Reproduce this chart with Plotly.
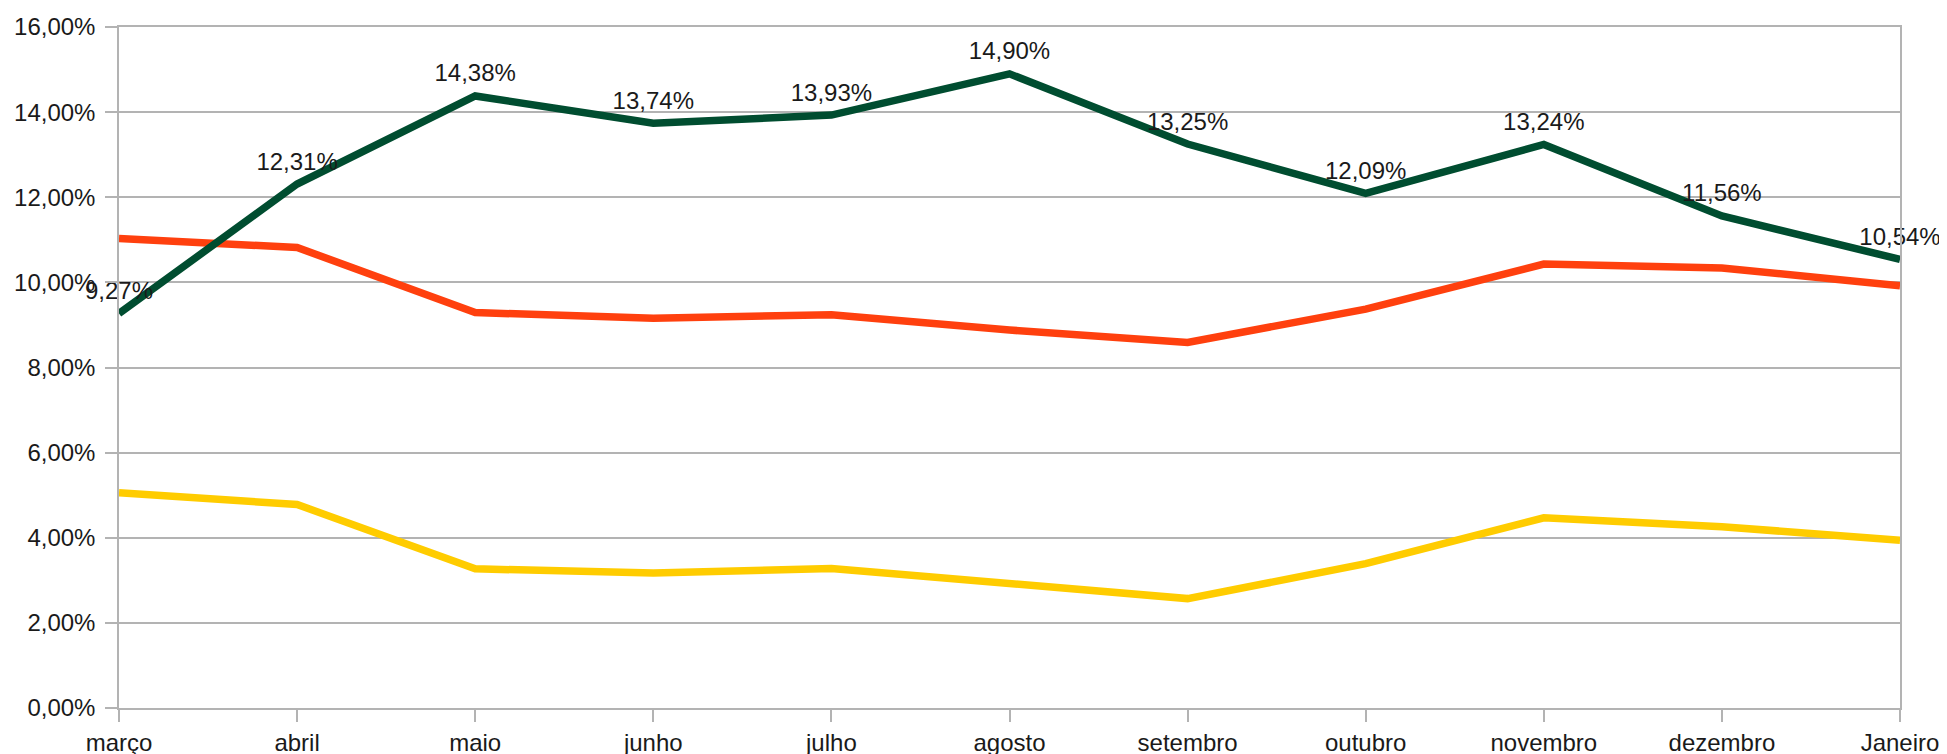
import plotly.graph_objects as go

months = ["março", "abril", "maio", "junho", "julho", "agosto", "setembro",
          "outubro", "novembro", "dezembro", "Janeiro"]
green_vals = [9.27, 12.31, 14.38, 13.74, 13.93, 14.90, 13.25, 12.09, 13.24, 11.56, 10.54]
red_vals = [11.03, 10.82, 9.29, 9.16, 9.24, 8.88, 8.59, 9.37, 10.43, 10.34, 9.92]
yellow_vals = [5.06, 4.78, 3.27, 3.17, 3.28, 2.92, 2.57, 3.39, 4.47, 4.26, 3.94]

y_ticks = [0, 2, 4, 6, 8, 10, 12, 14, 16]

FONT = "Liberation Sans, Arial, sans-serif"
GRID = "#b3b3b3"

def pct(v):
    return [x / 100 for x in v]

fig = go.Figure()
fig.add_trace(go.Scatter(x=months, y=pct(yellow_vals), mode="lines",
                         line=dict(color="#ffcc00", width=7.5), showlegend=False))
fig.add_trace(go.Scatter(x=months, y=pct(red_vals), mode="lines",
                         line=dict(color="#ff400e", width=7.5), showlegend=False))
fig.add_trace(go.Scatter(x=months, y=pct(green_vals), mode="lines+markers+text",
                         line=dict(color="#004d30", width=7.5),
                         marker=dict(size=12, color="rgba(0,0,0,0)"),
                         texttemplate="%{y:.2%}", textposition="top center",
                         textfont=dict(family=FONT, size=24, color="#1a1a1a"),
                         cliponaxis=False, showlegend=False))

fig.update_layout(
    width=1939, height=746,
    margin=dict(l=111, r=47, t=19, b=46),
    paper_bgcolor="white", plot_bgcolor="white",
    separators=",.",
    font=dict(family=FONT, size=24, color="#1a1a1a"),
)
fig.update_xaxes(
    type="category", range=[0, 10], automargin=False,
    showgrid=False, showline=True, linecolor=GRID, linewidth=1.5, mirror=True,
    ticks="outside", ticklen=12, tickcolor=GRID, tickwidth=1.5,
    tickfont=dict(family=FONT, size=24, color="#1a1a1a"),
)
fig.update_yaxes(
    range=[0, 0.16], tickvals=[t / 100 for t in y_ticks], tickformat=".2%",
    automargin=False, ticklabelstandoff=5,
    showgrid=True, gridcolor=GRID, gridwidth=1.5, zeroline=False,
    showline=True, linecolor=GRID, linewidth=1.5, mirror=True,
    ticks="outside", ticklen=12, tickcolor=GRID, tickwidth=1.5,
    tickfont=dict(family=FONT, size=24, color="#1a1a1a"),
)

fig.write_html("out.html")
